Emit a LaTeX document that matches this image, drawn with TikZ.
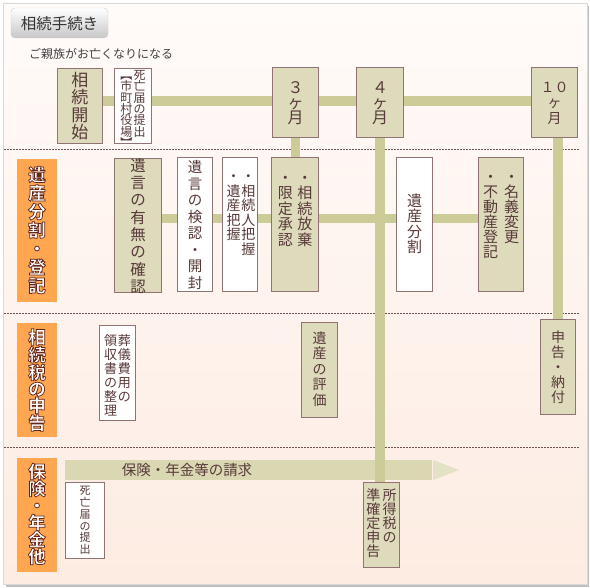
\documentclass[tikz,border=0pt]{standalone}
\usepackage{fontspec}
\setmainfont{Noto Sans CJK JP}
\usetikzlibrary{shadows}
\definecolor{bgtop}{RGB}{255,251,249}
\definecolor{bgbot}{RGB}{253,236,226}
\definecolor{barc}{RGB}{204,204,153}
\definecolor{beige}{RGB}{222,218,188}
\definecolor{bord}{RGB}{145,115,115}
\definecolor{txt}{RGB}{88,58,58}
\definecolor{orng}{RGB}{255,166,80}
\definecolor{dashc}{RGB}{110,80,80}
\definecolor{bandc}{RGB}{218,216,178}
\definecolor{headc}{RGB}{228,226,196}
\newcommand\vst[2][1.05em]{\parbox[t]{#1}{\centering #2}}
\newcommand\outl[1]{\special{pdf:literal direct 2 Tr 0.75 w 0.4 0.15 0.1 RG}#1\special{pdf:literal direct 0 Tr}}
\begin{document}
\begin{tikzpicture}[x=1pt,y=-1pt,
  boxB/.style={draw=bord, line width=0.8pt, fill=beige, inner sep=0pt},
  boxW/.style={draw=bord, line width=0.8pt, fill=white, inner sep=0pt},
  cat/.style={fill=orng, inner sep=0pt, minimum width=40pt},
  vt/.style={inner sep=0pt, text=txt},
  cattxt/.style={inner sep=0pt, text=white, font=\fontsize{17.5}{18.5}\selectfont\bfseries},
  bar/.style={draw=barc, line width=10pt},
  sep/.style={draw=dashc, line width=0.8pt, dash pattern=on 1.5pt off 1.5pt}]
\useasboundingbox (0,0) rectangle (590,588);
\fill[white] (0,0) rectangle (590,588);
% frame
\fill[black!25] (6,6) rectangle (589,587);
\shade[top color=bgtop, bottom color=bgbot, draw=black!15] (3,3) rectangle (587,584);
% title tab
\shade[top color=white, bottom color=black!22, draw=black!20, rounded corners=4pt] (11,8) rectangle (108,38);
\node[inner sep=0pt, text=black!80, font=\fontsize{15.5}{15}\selectfont] (title) at (59.5,23.5) {相続手続き};
\node[inner sep=0pt, text=black!75, font=\fontsize{12}{12}\selectfont, anchor=west] (intro) at (29,54) {ご親族がお亡くなりになる};
% separators
\coordinate (s1l) at (4,149); \coordinate (s1r) at (580,149);
\coordinate (s2l) at (4,313); \coordinate (s2r) at (580,313);
\coordinate (s3l) at (4,447); \coordinate (s3r) at (580,447);
\draw[sep] (s1l) -- (s1r);
\draw[sep] (s2l) -- (s2r);
\draw[sep] (s3l) -- (s3r);
% boxes (positions)
\path
 (80,106) node[boxB, minimum width=44pt, minimum height=74pt] (kaishi) {}
 (133,106) node[boxW, minimum width=36pt, minimum height=74pt] (shibou) {}
 (295.5,102.5) node[boxB, minimum width=45pt, minimum height=69pt] (m3) {}
 (380,102.5) node[boxB, minimum width=46pt, minimum height=69pt] (m4) {}
 (554.5,102.5) node[boxB, minimum width=45pt, minimum height=69pt] (m10) {}
 (138,225.5) node[boxB, minimum width=46pt, minimum height=133pt] (yuigon) {}
 (195,224.5) node[boxW, minimum width=34pt, minimum height=133pt] (kennin) {}
 (240,224.5) node[boxW, minimum width=34pt, minimum height=133pt] (haaku) {}
 (295,224.5) node[boxB, minimum width=46pt, minimum height=133pt] (houki) {}
 (414.5,224.5) node[boxW, minimum width=35pt, minimum height=133pt] (bunkatsu) {}
 (501,224.5) node[boxB, minimum width=44pt, minimum height=133pt] (meigi) {}
 (117.5,373) node[boxW, minimum width=35pt, minimum height=94pt] (sougi) {}
 (319.5,370) node[boxB, minimum width=35pt, minimum height=94pt] (hyouka) {}
 (558,367) node[boxB, minimum width=34pt, minimum height=94pt] (nouhu) {}
 (85,520.5) node[boxW, minimum width=38pt, minimum height=75pt] (shibou2) {}
 (381.5,525) node[boxB, minimum width=35pt, minimum height=84pt] (shotoku) {};
% connectors
\draw[bar] (kaishi.east |- 0,101) -- (m10.west |- 0,101);
\draw[bar, line width=9pt] (yuigon.east |- 0,218.5) -- (meigi.west |- 0,218.5);
\draw[bar, line width=9pt] (houki.north |- m3.south) -- (houki.north);
\draw[bar] (nouhu.north |- m10.south) -- (nouhu.north);
% arrow band
\coordinate (bandL) at (65,460);
\fill[bandc] (bandL) rectangle (432,480);
\fill[headc] (433,460) -- (459,470) -- (433,480) -- cycle;
\node[inner sep=0pt, text=txt, font=\fontsize{14.5}{14.5}\selectfont] (band) at (187,470) {保険・年金等の請求};
\draw[bar] (m4.south) -- (m4.south |- shotoku.north);
% redraw boxes on top
\foreach \n/\s in {kaishi/boxB, shibou/boxW, m3/boxB, m4/boxB, m10/boxB, yuigon/boxB, kennin/boxW, haaku/boxW, houki/boxB, bunkatsu/boxW, meigi/boxB, sougi/boxW, hyouka/boxB, nouhu/boxB, shibou2/boxW, shotoku/boxB}
  {\path[\s] (\n.north west) rectangle (\n.south east);}
% box texts
\node[vt, font=\fontsize{17}{17.5}\selectfont] (kaishi-t) at (80,106) {\vst{相\\続\\開\\始}};
\node[vt, font=\fontsize{12}{11.3}\selectfont] (shibou-t) at (133,109) {\vst[1.1em]{︻\\市\\町\\村\\役\\場\\︼}\vst[1.1em]{死\\亡\\届\\の\\提\\出}};
\node[vt, font=\fontsize{16}{15}\selectfont] (m3-t) at (295.5,103) {\vst[2em]{３\\ヶ\\月}};
\node[vt, font=\fontsize{16}{15}\selectfont] (m4-t) at (380,103) {\vst[2em]{４\\ヶ\\月}};
\node[vt, font=\fontsize{14}{15.5}\selectfont] (m10-t) at (554.5,103) {\vst[2.5em]{１０\\ヶ\\月}};
\node[vt, font=\fontsize{15.5}{17.3}\selectfont] (yuigon-t) at (138,226) {\vst{遺\\言\\の\\有\\無\\の\\確\\認}};
\node[vt, font=\fontsize{14.5}{16.5}\selectfont] (kennin-t) at (195,225) {\vst{遺\\言\\の\\検\\認\\・\\開\\封}};
\node[vt, font=\fontsize{14}{14.5}\selectfont] (haaku-t) at (241,215) {\vst{・\\遺\\産\\把\\握}\vst{・\\相\\続\\人\\把\\握}};
\node[vt, font=\fontsize{15}{15.5}\selectfont] (houki-t) at (295,211) {\vst[1.3em]{・\\限\\定\\承\\認}\vst[1.3em]{・\\相\\続\\放\\棄}};
\node[vt, font=\fontsize{15}{15.5}\selectfont] (bunkatsu-t) at (414.5,224) {\vst{遺\\産\\分\\割}};
\node[vt, font=\fontsize{15}{15}\selectfont] (meigi-t) at (501,217) {\vst[1.4em]{・\\不\\動\\産\\登\\記}\vst[1.4em]{・\\名\\義\\変\\更}};
\node[vt, font=\fontsize{13}{14}\selectfont] (sougi-t) at (117.5,375) {\vst{領\\収\\書\\の\\整\\理}\vst{葬\\儀\\費\\用\\の}};
\node[vt, font=\fontsize{14}{15.5}\selectfont] (hyouka-t) at (319.5,369) {\vst{遺\\産\\の\\評\\価}};
\node[vt, font=\fontsize{14}{15}\selectfont] (nouhu-t) at (558,367) {\vst{申\\告\\・\\納\\付}};
\node[vt, font=\fontsize{11}{11.8}\selectfont] (shibou2-t) at (85,520.5) {\vst{死\\亡\\届\\の\\提\\出}};
\node[vt, font=\fontsize{14}{14}\selectfont] (shotoku-t) at (381.5,523) {\vst[1.15em]{準\\確\\定\\申\\告}\vst[1.15em]{所\\得\\税\\の}};
% category labels
\node[cat, minimum height=143pt] (cat1) at (37,230.5) {};
\node[cat, minimum height=114pt] (cat2) at (37,380) {};
\node[cat, minimum height=114pt] (cat3) at (37,515) {};
\node[cattxt] (cat1-t) at (37,230) {\outl{\vst{遺\\産\\分\\割\\・\\登\\記}}};
\node[cattxt, font=\fontsize{17.5}{16.5}\selectfont\bfseries] (cat2-t) at (37,380) {\outl{\vst{相\\続\\税\\の\\申\\告}}};
\node[cattxt, font=\fontsize{17.5}{17}\selectfont\bfseries] (cat3-t) at (37,514) {\outl{\vst{保\\険\\・\\年\\金\\他}}};
\end{tikzpicture}
\end{document}
